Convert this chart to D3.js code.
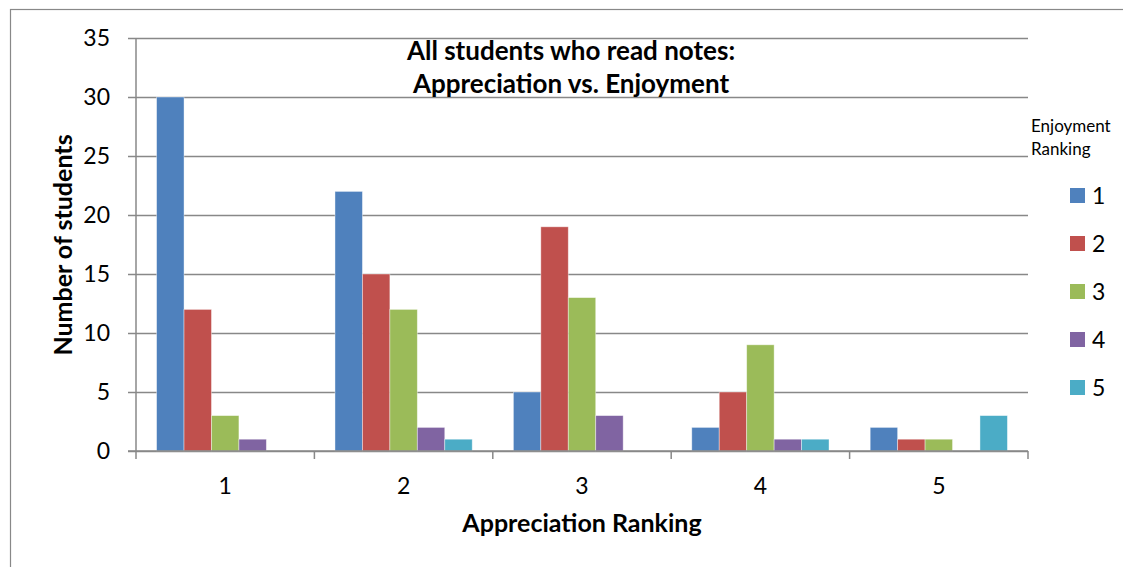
<!DOCTYPE html>
<html>
<head>
<meta charset="utf-8">
<script src="https://cdn.jsdelivr.net/npm/d3@7"></script>
<style>
  html, body { margin: 0; padding: 0; background: #fff; }
  svg { display: block; }
  text { font-family: Lato, "Open Sans", sans-serif; fill: #000; }
</style>
</head>
<body>
<svg id="chart" width="1123" height="567"></svg>
<script>
// Appreciation ranking groups along the x axis
const categories = ["1", "2", "3", "4", "5"];
// Enjoyment ranking series (legend entries)
const seriesNames = ["1", "2", "3", "4", "5"];
const seriesColors = ["#4F81BD", "#C0504D", "#9BBB59", "#8064A2", "#4BACC6"];
// Number of students per appreciation group, one array per enjoyment ranking
const enjoy1 = [30, 22, 5, 2, 2];
const enjoy2 = [12, 15, 19, 5, 1];
const enjoy3 = [3, 12, 13, 9, 1];
const enjoy4 = [1, 2, 3, 1, 0];
const enjoy5 = [0, 1, 0, 1, 3];
const seriesValues = [enjoy1, enjoy2, enjoy3, enjoy4, enjoy5];
const yTicks = [0, 5, 10, 15, 20, 25, 30, 35];

const svg = d3.select("#chart");
const W = 1123, H = 567;
const plot = { left: 136, right: 1028, top: 38, bottom: 451 };

// Outer chart frame
svg.append("rect")
  .attr("x", 10.5).attr("y", 9.5)
  .attr("width", W + 20).attr("height", H + 20)
  .attr("fill", "none").attr("stroke", "#888").attr("stroke-width", 1.2);

const x0 = d3.scaleBand().domain(categories).range([plot.left, plot.right]).padding(0);
const barW = x0.bandwidth() / (seriesNames.length + 1.5);
const x1 = d3.scaleBand().domain(seriesNames)
  .range([barW * 0.75, barW * 0.75 + barW * seriesNames.length]).padding(0);
const y = d3.scaleLinear().domain([0, 35]).range([plot.bottom, plot.top]);

// Horizontal gridlines with outward tick marks
const yAxis = d3.axisLeft(y).tickValues(yTicks).tickSize(-(plot.right - plot.left)).tickFormat("");
const gy = svg.append("g").attr("transform", `translate(${plot.left},0)`).call(yAxis);
gy.select(".domain").remove();
gy.selectAll(".tick line").attr("stroke", "#888").attr("stroke-width", 1.5)
  .attr("x1", -8);

// Y tick labels
svg.append("g").selectAll("text").data(yTicks).join("text")
  .attr("x", 110).attr("y", d => y(d) + 8)
  .attr("text-anchor", "end").attr("font-size", 23)
  .text(d => d);

// Bars
const groups = svg.append("g").selectAll("g").data(categories).join("g")
  .attr("transform", c => `translate(${x0(c)},0)`);
groups.selectAll("rect")
  .data((c, ci) => seriesNames.map((s, si) => ({ s, si, v: seriesValues[si][ci] })))
  .join("rect")
  .filter(d => d.v > 0)
  .attr("x", d => x1(d.s))
  .attr("width", x1.bandwidth())
  .attr("y", d => y(d.v))
  .attr("height", d => y(0) - y(d.v))
  .attr("fill", d => seriesColors[d.si])
  .attr("stroke", "#fff").attr("stroke-opacity", 0.5).attr("stroke-width", 0.8);

// Y axis line
svg.append("line")
  .attr("x1", plot.left).attr("x2", plot.left)
  .attr("y1", plot.top).attr("y2", plot.bottom + 8)
  .attr("stroke", "#888").attr("stroke-width", 1.5);

// X axis line with category boundary ticks
svg.append("line")
  .attr("x1", plot.left - 8).attr("x2", plot.right)
  .attr("y1", plot.bottom).attr("y2", plot.bottom)
  .attr("stroke", "#888").attr("stroke-width", 1.5);
const boundaries = categories.map(c => x0(c) + x0.bandwidth());
svg.append("g").selectAll("line").data(boundaries).join("line")
  .attr("x1", d => d).attr("x2", d => d)
  .attr("y1", plot.bottom).attr("y2", plot.bottom + 8)
  .attr("stroke", "#888").attr("stroke-width", 1.5);

// X tick labels
svg.append("g").selectAll("text").data(categories).join("text")
  .attr("x", c => x0(c) + x0.bandwidth() / 2).attr("y", 494)
  .attr("text-anchor", "middle").attr("font-size", 23)
  .text(c => c);

// Axis titles
svg.append("text")
  .attr("x", (plot.left + plot.right) / 2).attr("y", 532)
  .attr("text-anchor", "middle").attr("font-size", 25).attr("font-weight", "bold")
  .text("Appreciation Ranking");
svg.append("text")
  .attr("transform", `translate(72,245) rotate(-90)`)
  .attr("text-anchor", "middle").attr("font-size", 25).attr("font-weight", "bold")
  .text("Number of students");

// Chart title
const title = svg.append("text").attr("text-anchor", "middle")
  .attr("font-size", 26).attr("font-weight", "bold");
title.append("tspan").attr("x", 571).attr("y", 60).text("All students who read notes:");
title.append("tspan").attr("x", 571).attr("y", 93).text("Appreciation vs. Enjoyment");

// Legend
const legend = svg.append("g");
legend.append("text").attr("x", 1031).attr("y", 132).attr("font-size", 17).text("Enjoyment");
legend.append("text").attr("x", 1031).attr("y", 155).attr("font-size", 17).text("Ranking");
const items = legend.selectAll("g.item").data(seriesNames).join("g")
  .attr("class", "item")
  .attr("transform", (d, i) => `translate(1070,${188 + i * 48})`);
items.append("rect").attr("width", 15).attr("height", 15)
  .attr("fill", (d, i) => seriesColors[i]);
items.append("text").attr("x", 22).attr("y", 16).attr("font-size", 23).text(d => d);
</script>
</body>
</html>
